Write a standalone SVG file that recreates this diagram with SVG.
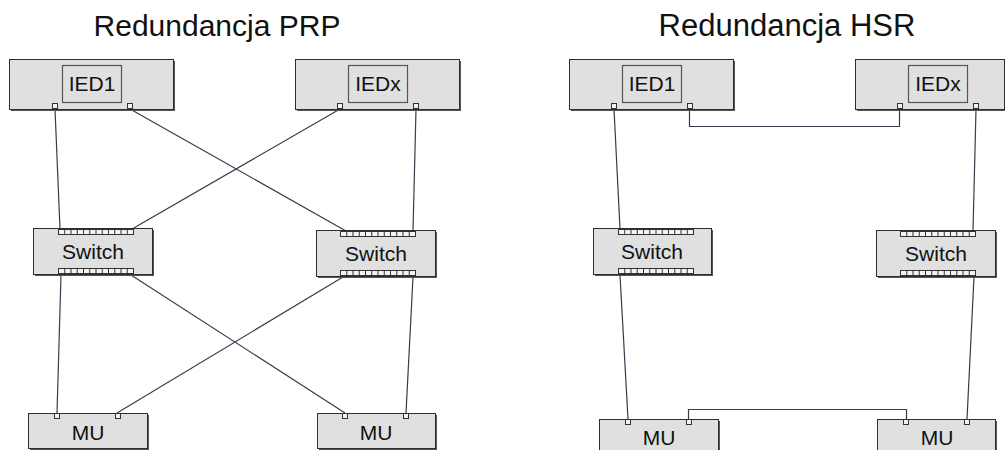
<svg xmlns="http://www.w3.org/2000/svg" width="1005" height="450" viewBox="0 0 1005 450">
<style>
.title{font-family:"Liberation Sans",Arial,sans-serif;font-size:30px;fill:#111;text-anchor:middle}
.lbl{font-family:"Liberation Sans",Arial,sans-serif;font-size:21px;fill:#111;text-anchor:middle}
.box{fill:#dfe0df;stroke:#2e2e2e;stroke-width:1}
.sh{fill:#555}
.inner{fill:#dfe0df;stroke:#555;stroke-width:1.2}
.port{fill:#f2f2f2;stroke:#333;stroke-width:1}
.strip{fill:#f4f4f4;stroke:#333;stroke-width:1}
.bars{stroke:#333;stroke-width:5;stroke-dasharray:1 5.25}
.wire{fill:none;stroke:#3a3a4c;stroke-width:1.2}
</style>
<rect width="1005" height="450" fill="#ffffff"/>
<text class="title" x="217" y="36">Redundancja PRP</text>
<text class="title" x="787" y="36" style="font-size:31px">Redundancja HSR</text>

<g id="connectors">
<line class="wire" x1="55" y1="109" x2="60" y2="229"/>
<line class="wire" x1="130" y1="109" x2="346" y2="231"/>
<line class="wire" x1="340" y1="109" x2="132" y2="229"/>
<line class="wire" x1="416" y1="109" x2="413" y2="231"/>
<line class="wire" x1="61" y1="275" x2="57" y2="413"/>
<line class="wire" x1="131" y1="275" x2="345" y2="413"/>
<line class="wire" x1="343" y1="277" x2="117" y2="413"/>
<line class="wire" x1="413" y1="277" x2="406" y2="413"/>
<line class="wire" x1="614" y1="109" x2="620" y2="229"/>
<polyline class="wire" points="689.5,109 689.5,126.5 899.5,126.5 899.5,109"/>
<line class="wire" x1="976" y1="109" x2="973" y2="231"/>
<line class="wire" x1="620" y1="275" x2="628" y2="419"/>
<polyline class="wire" points="688.5,419 688.5,409.5 906.5,409.5 906.5,419"/>
<line class="wire" x1="974" y1="277" x2="967" y2="419"/>
</g>

<g id="prp-ied1">
<rect class="sh" x="11" y="61" width="164" height="50"/>
<rect class="box" x="9.5" y="59.5" width="164" height="50"/>
<rect class="inner" x="62.5" y="65.5" width="59" height="37"/>
<text class="lbl" x="92" y="91">IED1</text>
<rect class="port" x="52.5" y="103.5" width="5" height="5"/>
<rect class="port" x="127.5" y="103.5" width="5" height="5"/>
</g>
<g id="prp-iedx">
<rect class="sh" x="297" y="61" width="164" height="50"/>
<rect class="box" x="295.5" y="59.5" width="164" height="50"/>
<rect class="inner" x="348.5" y="65.5" width="59" height="37"/>
<text class="lbl" x="378" y="91">IEDx</text>
<rect class="port" x="337.5" y="103.5" width="5" height="5"/>
<rect class="port" x="413.5" y="103.5" width="5" height="5"/>
</g>
<g id="prp-switch1">
<rect class="sh" x="35" y="230" width="119" height="46"/>
<rect class="box" x="33.5" y="228.5" width="119" height="46"/>
<rect class="strip" x="58.5" y="229.5" width="75" height="5"/>
<line class="bars" x1="58" y1="232" x2="134" y2="232"/>
<rect class="strip" x="58.5" y="268.5" width="75" height="5"/>
<line class="bars" x1="58" y1="271" x2="134" y2="271"/>
<text class="lbl" x="93" y="259">Switch</text>
</g>
<g id="prp-switch2">
<rect class="sh" x="318" y="232" width="119" height="46"/>
<rect class="box" x="316.5" y="230.5" width="119" height="46"/>
<rect class="strip" x="340.5" y="231.5" width="75" height="5"/>
<line class="bars" x1="340" y1="234" x2="416" y2="234"/>
<rect class="strip" x="340.5" y="270.5" width="75" height="5"/>
<line class="bars" x1="340" y1="273" x2="416" y2="273"/>
<text class="lbl" x="376" y="261">Switch</text>
</g>
<g id="prp-mu1">
<rect class="sh" x="30" y="415" width="119" height="35"/>
<rect class="box" x="28.5" y="413.5" width="119" height="35"/>
<rect class="port" x="54.5" y="413.5" width="5" height="5"/>
<rect class="port" x="115.5" y="413.5" width="5" height="5"/>
<text class="lbl" x="88" y="440">MU</text>
</g>
<g id="prp-mu2">
<rect class="sh" x="319" y="415" width="118" height="35"/>
<rect class="box" x="317.5" y="413.5" width="118" height="35"/>
<rect class="port" x="342.5" y="413.5" width="5" height="5"/>
<rect class="port" x="403.5" y="413.5" width="5" height="5"/>
<text class="lbl" x="376" y="440">MU</text>
</g>

<g id="hsr-ied1">
<rect class="sh" x="571" y="61" width="164" height="50"/>
<rect class="box" x="569.5" y="59.5" width="164" height="50"/>
<rect class="inner" x="622.5" y="65.5" width="59" height="37"/>
<text class="lbl" x="652" y="91">IED1</text>
<rect class="port" x="611.5" y="103.5" width="5" height="5"/>
<rect class="port" x="687.5" y="103.5" width="5" height="5"/>
</g>
<g id="hsr-iedx">
<rect class="sh" x="857" y="61" width="149" height="50"/>
<rect class="box" x="855.5" y="59.5" width="149" height="50"/>
<rect class="inner" x="908.5" y="65.5" width="59" height="37"/>
<text class="lbl" x="938" y="91">IEDx</text>
<rect class="port" x="897.5" y="103.5" width="5" height="5"/>
<rect class="port" x="973.5" y="103.5" width="5" height="5"/>
</g>
<g id="hsr-switch1">
<rect class="sh" x="595" y="230" width="118" height="46"/>
<rect class="box" x="593.5" y="228.5" width="118" height="46"/>
<rect class="strip" x="618.5" y="229.5" width="75" height="5"/>
<line class="bars" x1="618" y1="232" x2="694" y2="232"/>
<rect class="strip" x="618.5" y="268.5" width="75" height="5"/>
<line class="bars" x1="618" y1="271" x2="694" y2="271"/>
<text class="lbl" x="652" y="259">Switch</text>
</g>
<g id="hsr-switch2">
<rect class="sh" x="878" y="232" width="119" height="46"/>
<rect class="box" x="876.5" y="230.5" width="119" height="46"/>
<rect class="strip" x="900.5" y="231.5" width="75" height="5"/>
<line class="bars" x1="900" y1="234" x2="976" y2="234"/>
<rect class="strip" x="900.5" y="270.5" width="75" height="5"/>
<line class="bars" x1="900" y1="273" x2="976" y2="273"/>
<text class="lbl" x="936" y="261">Switch</text>
</g>
<g id="hsr-mu1">
<rect class="sh" x="601" y="421" width="119" height="40"/>
<rect class="box" x="599.5" y="419.5" width="119" height="40"/>
<rect class="port" x="625.5" y="419.5" width="5" height="5"/>
<rect class="port" x="686.5" y="419.5" width="5" height="5"/>
<text class="lbl" x="659" y="445">MU</text>
</g>
<g id="hsr-mu2">
<rect class="sh" x="879" y="421" width="118" height="40"/>
<rect class="box" x="877.5" y="419.5" width="118" height="40"/>
<rect class="port" x="903.5" y="419.5" width="5" height="5"/>
<rect class="port" x="964.5" y="419.5" width="5" height="5"/>
<text class="lbl" x="937" y="445">MU</text>
</g>
</svg>
